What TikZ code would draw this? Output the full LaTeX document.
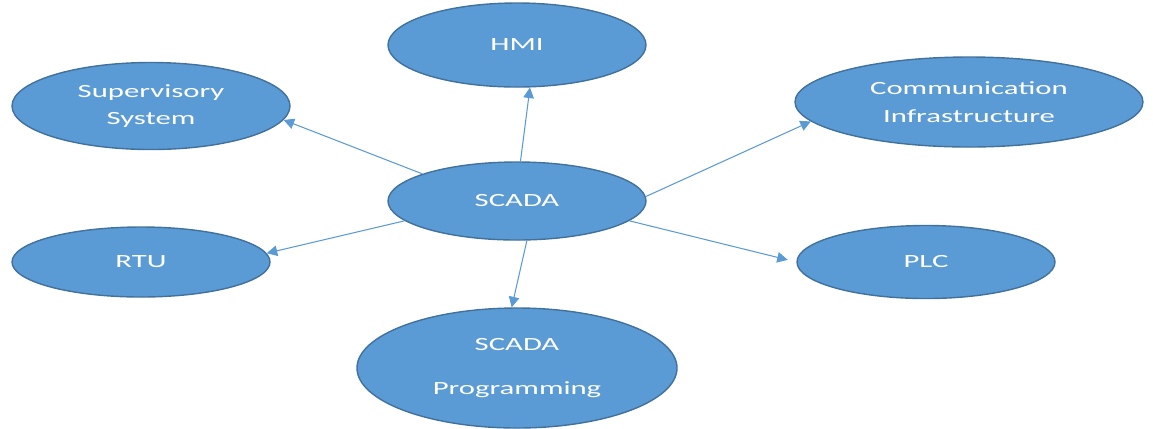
\documentclass[tikz,border=0pt]{standalone}
\usepackage{fontspec}
\setmainfont{Carlito}[FakeStretch=1.65]
\usetikzlibrary{shapes,arrows.meta}
\definecolor{officeblue}{HTML}{5B9BD5}
\definecolor{officeedge}{HTML}{41719C}

\begin{document}
\begin{tikzpicture}[
	part/.style={ellipse, draw=officeedge, line width=0.8pt, fill=officeblue, text=white, inner sep=0pt, align=center, font=\fontsize{10.6}{15.5}\selectfont},
	link/.style={draw=officeblue, line width=0.6pt, -{Triangle[length=6pt,width=6pt]}}]
	\useasboundingbox (0,0) rectangle (23.06,-8.56);
	% outer parts
	\node[part, minimum width=5.16cm, minimum height=1.68cm] (hmi) at (10.34,-0.90) {HMI};
	\node[part, minimum width=5.56cm, minimum height=1.74cm] (sup) at (3.02,-2.12) {Supervisory\\System};
	\node[part, minimum width=6.96cm, minimum height=1.80cm] (comm) at (19.38,-2.04) {Communication\\Infrastructure};
	\node[part, minimum width=5.16cm, minimum height=1.40cm] (rtu) at (2.82,-5.24) {RTU};
	\node[part, minimum width=5.16cm, minimum height=1.46cm] (plc) at (18.52,-5.24) {PLC};
	\node[part, minimum width=6.40cm, minimum height=2.40cm] (prog) at (10.34,-7.36) {SCADA\\[10pt]Programming};
	% centre
	\node[part, minimum width=5.16cm, minimum height=1.56cm] (scada) at (10.34,-4.02) {SCADA};
	\draw[link] (scada.85) -- (hmi.-73);
	\draw[link] (scada.164) -- (sup.-6);
	\draw[link] (scada.2) -- (comm.-173);
	\draw[link] (scada.-170) -- (rtu.4);
	\draw[link, shorten >=5pt] (scada.-10) -- (plc.180);
	\draw[link] (scada.-76) -- (prog.95);
\end{tikzpicture}
\end{document}
